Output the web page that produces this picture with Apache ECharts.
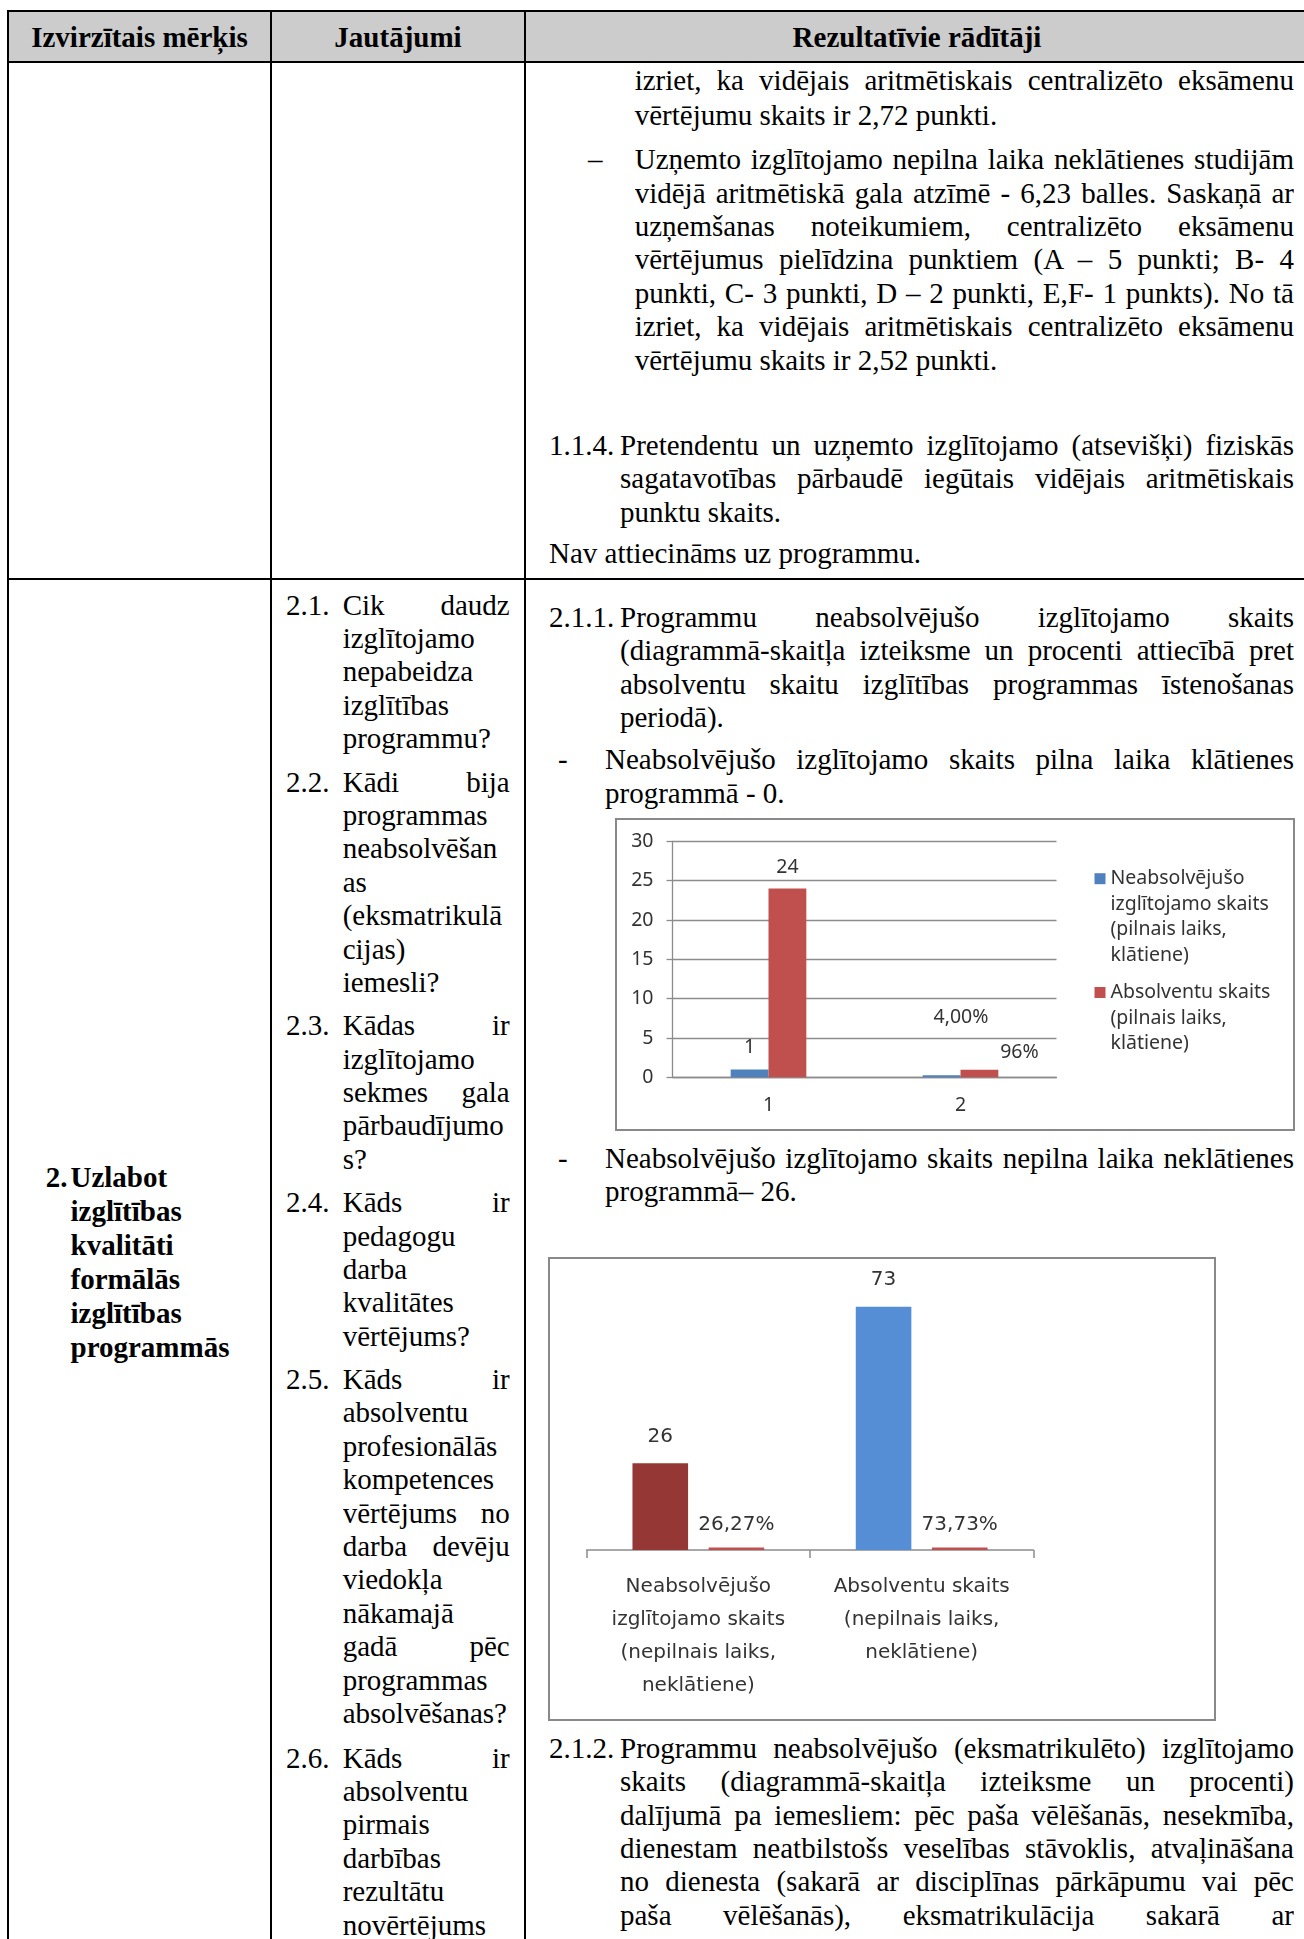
<!DOCTYPE html>
<html><head><meta charset="utf-8">
<script src="https://cdn.jsdelivr.net/npm/echarts@6/dist/echarts.min.js"></script>
<style>
html,body{margin:0;padding:0;background:#fff;}
#page{position:relative;width:1304px;height:1939px;overflow:hidden;background:#fff;}
.ln{position:absolute;margin-top:2.5px;font-family:'Liberation Serif','Times New Roman',serif;font-size:29px;line-height:33.4px;height:33.4px;white-space:nowrap;color:#000;}
.j{text-align:justify;text-align-last:justify;white-space:normal;overflow:hidden;}
.b{font-weight:bold;}
.c{text-align:center;}
.hl,.vl{position:absolute;background:#000;}
.box{position:absolute;box-sizing:border-box;border:2px solid #898989;background:#fff;}
</style></head>
<body>
<div id="page">
<div style="position:absolute;left:8px;top:11px;width:1300px;height:51px;background:#cccccc"></div>
<div class="hl" style="left:7px;top:10px;width:1297px;height:2px"></div>
<div class="hl" style="left:7px;top:61px;width:1297px;height:2px"></div>
<div class="hl" style="left:7px;top:578px;width:1297px;height:2px"></div>
<div class="vl" style="left:7px;top:10px;width:2px;height:1929px"></div>
<div class="vl" style="left:270px;top:10px;width:2px;height:1929px"></div>
<div class="vl" style="left:524px;top:10px;width:2px;height:1929px"></div>

<div class="ln b c" style="left:9px;top:18px;width:261px">Izvirzītais mērķis</div>
<div class="ln b c" style="left:272px;top:18px;width:252px">Jautājumi</div>
<div class="ln b c" style="left:526px;top:18px;width:782px">Rezultatīvie rādītāji</div>

<!-- row 1, column 3 -->
<div class="ln j" style="left:634.7px;top:61.4px;width:659.3px">izriet, ka vidējais aritmētiskais centralizēto eksāmenu</div>
<div class="ln" style="left:634.7px;top:96px">vērtējumu skaits ir 2,72 punkti.</div>
<div class="ln" style="left:588px;top:140.6px">–</div>
<div class="ln j" style="left:634.7px;top:140.6px;width:659.3px">Uzņemto izglītojamo nepilna laika neklātienes studijām</div>
<div class="ln j" style="left:634.7px;top:174px;width:659.3px">vidējā aritmētiskā gala atzīmē - 6,23 balles. Saskaņā ar</div>
<div class="ln j" style="left:634.7px;top:207.4px;width:659.3px">uzņemšanas noteikumiem, centralizēto eksāmenu</div>
<div class="ln j" style="left:634.7px;top:240.8px;width:659.3px">vērtējumus pielīdzina punktiem (A – 5 punkti; B- 4</div>
<div class="ln j" style="left:634.7px;top:274.2px;width:659.3px">punkti, C- 3 punkti, D – 2 punkti, E,F- 1 punkts). No tā</div>
<div class="ln j" style="left:634.7px;top:307.6px;width:659.3px">izriet, ka vidējais aritmētiskais centralizēto eksāmenu</div>
<div class="ln" style="left:634.7px;top:341.5px">vērtējumu skaits ir 2,52 punkti.</div>
<div class="ln" style="left:549px;top:426.4px">1.1.4.</div>
<div class="ln j" style="left:620px;top:426.4px;width:674px">Pretendentu un uzņemto izglītojamo (atsevišķi) fiziskās</div>
<div class="ln j" style="left:620px;top:459.8px;width:674px">sagatavotības pārbaudē iegūtais vidējais aritmētiskais</div>
<div class="ln" style="left:620px;top:493.2px">punktu skaits.</div>
<div class="ln" style="left:549px;top:534px">Nav attiecināms uz programmu.</div>

<!-- row 2, column 1 -->
<div class="ln b" style="left:45.8px;top:1158.8px">2.</div>
<div class="ln b" style="left:70.5px;top:1158.8px">Uzlabot</div>
<div class="ln b" style="left:70.5px;top:1192.7px">izglītības</div>
<div class="ln b" style="left:70.5px;top:1226.6px">kvalitāti</div>
<div class="ln b" style="left:70.5px;top:1260.5px">formālās</div>
<div class="ln b" style="left:70.5px;top:1294.4px">izglītības</div>
<div class="ln b" style="left:70.5px;top:1328.3px">programmās</div>

<!-- row 2, column 2 -->
<div class="ln" style="left:286px;top:586px">2.1.</div>
<div class="ln j" style="left:342.7px;top:586px;width:167px">Cik daudz</div>
<div class="ln" style="left:342.7px;top:619.4px">izglītojamo</div>
<div class="ln" style="left:342.7px;top:652.8px">nepabeidza</div>
<div class="ln" style="left:342.7px;top:686.2px">izglītības</div>
<div class="ln" style="left:342.7px;top:719.6px">programmu?</div>
<div class="ln" style="left:286px;top:763px">2.2.</div>
<div class="ln j" style="left:342.7px;top:763px;width:167px">Kādi bija</div>
<div class="ln" style="left:342.7px;top:796.4px">programmas</div>
<div class="ln" style="left:342.7px;top:829.8px">neabsolvēšan</div>
<div class="ln" style="left:342.7px;top:863.2px">as</div>
<div class="ln" style="left:342.7px;top:896.6px">(eksmatrikulā</div>
<div class="ln" style="left:342.7px;top:930px">cijas)</div>
<div class="ln" style="left:342.7px;top:963.4px">iemesli?</div>
<div class="ln" style="left:286px;top:1006.6px">2.3.</div>
<div class="ln j" style="left:342.7px;top:1006.6px;width:167px">Kādas ir</div>
<div class="ln" style="left:342.7px;top:1040px">izglītojamo</div>
<div class="ln j" style="left:342.7px;top:1073.4px;width:167px">sekmes gala</div>
<div class="ln" style="left:342.7px;top:1106.8px">pārbaudījumo</div>
<div class="ln" style="left:342.7px;top:1140.2px">s?</div>
<div class="ln" style="left:286px;top:1183.6px">2.4.</div>
<div class="ln j" style="left:342.7px;top:1183.6px;width:167px">Kāds ir</div>
<div class="ln" style="left:342.7px;top:1217px">pedagogu</div>
<div class="ln" style="left:342.7px;top:1250.4px">darba</div>
<div class="ln" style="left:342.7px;top:1283.8px">kvalitātes</div>
<div class="ln" style="left:342.7px;top:1317.2px">vērtējums?</div>
<div class="ln" style="left:286px;top:1360.5px">2.5.</div>
<div class="ln j" style="left:342.7px;top:1360.5px;width:167px">Kāds ir</div>
<div class="ln" style="left:342.7px;top:1393.9px">absolventu</div>
<div class="ln" style="left:342.7px;top:1427.3px">profesionālās</div>
<div class="ln" style="left:342.7px;top:1460.7px">kompetences</div>
<div class="ln j" style="left:342.7px;top:1494.1px;width:167px">vērtējums no</div>
<div class="ln j" style="left:342.7px;top:1527.5px;width:167px">darba devēju</div>
<div class="ln" style="left:342.7px;top:1560.9px">viedokļa</div>
<div class="ln" style="left:342.7px;top:1594.3px">nākamajā</div>
<div class="ln j" style="left:342.7px;top:1627.7px;width:167px">gadā pēc</div>
<div class="ln" style="left:342.7px;top:1661.1px">programmas</div>
<div class="ln" style="left:342.7px;top:1694.5px">absolvēšanas?</div>
<div class="ln" style="left:286px;top:1739px">2.6.</div>
<div class="ln j" style="left:342.7px;top:1739px;width:167px">Kāds ir</div>
<div class="ln" style="left:342.7px;top:1772.4px">absolventu</div>
<div class="ln" style="left:342.7px;top:1805.8px">pirmais</div>
<div class="ln" style="left:342.7px;top:1839.2px">darbības</div>
<div class="ln" style="left:342.7px;top:1872.6px">rezultātu</div>
<div class="ln" style="left:342.7px;top:1906px">novērtējums</div>

<!-- row 2, column 3 -->
<div class="ln" style="left:549px;top:598.4px">2.1.1.</div>
<div class="ln j" style="left:620px;top:598.4px;width:674px">Programmu neabsolvējušo izglītojamo skaits</div>
<div class="ln j" style="left:620px;top:631.8px;width:674px">(diagrammā-skaitļa izteiksme un procenti attiecībā pret</div>
<div class="ln j" style="left:620px;top:665.2px;width:674px">absolventu skaitu izglītības programmas īstenošanas</div>
<div class="ln" style="left:620px;top:698.6px">periodā).</div>
<div class="ln" style="left:558px;top:740.6px">-</div>
<div class="ln j" style="left:605px;top:740.6px;width:689px">Neabsolvējušo izglītojamo skaits pilna laika klātienes</div>
<div class="ln" style="left:605px;top:774px">programmā - 0.</div>
<div class="ln" style="left:558px;top:1139px">-</div>
<div class="ln j" style="left:605px;top:1139px;width:689px">Neabsolvējušo izglītojamo skaits nepilna laika neklātienes</div>
<div class="ln" style="left:605px;top:1172.4px">programmā– 26.</div>
<div class="ln" style="left:549px;top:1729px">2.1.2.</div>
<div class="ln j" style="left:620px;top:1729px;width:674px">Programmu neabsolvējušo (eksmatrikulēto) izglītojamo</div>
<div class="ln j" style="left:620px;top:1762.5px;width:674px">skaits (diagrammā-skaitļa izteiksme un procenti)</div>
<div class="ln j" style="left:620px;top:1796px;width:674px">dalījumā pa iemesliem: pēc paša vēlēšanās, nesekmība,</div>
<div class="ln j" style="left:620px;top:1829.4px;width:674px">dienestam neatbilstošs veselības stāvoklis, atvaļināšana</div>
<div class="ln j" style="left:620px;top:1862.8px;width:674px">no dienesta (sakarā ar disciplīnas pārkāpumu vai pēc</div>
<div class="ln j" style="left:620px;top:1896.2px;width:674px">paša vēlēšanās), eksmatrikulācija sakarā ar</div>

<div id="chart1" class="box" style="left:615px;top:818px;width:680px;height:313px"></div>
<div id="chart2" class="box" style="left:548px;top:1257px;width:668px;height:464px"></div>
</div>

<script>
// ---- chart 1 data (pilnais laiks, klātiene) ----
const chart1Categories = ['1', '2'];
const chart1SeriesNames = [
  'Neabsolvējušo\nizglītojamo skaits\n(pilnais laiks,\nklātiene)',
  'Absolventu skaits\n(pilnais laiks,\nklātiene)'
];
const chart1Neabsolvejusi = [1, 0.04];
const chart1Absolventi = [24, 0.96];
const chart1NeabsLabels = ['1', '4,00%'];
const chart1AbsLabels = ['24', '96%'];
const chart1YMin = 0, chart1YMax = 30, chart1YStep = 5;

// ---- chart 2 data (nepilnais laiks, neklātiene) ----
const chart2Categories = [
  'Neabsolvējušo\nizglītojamo skaits\n(nepilnais laiks,\nneklātiene)',
  'Absolventu skaits\n(nepilnais laiks,\nneklātiene)'
];
const chart2Counts = [26, 73];
const chart2Percents = [0.2627, 0.7373];
const chart2PercentLabels = ['26,27%', '73,73%'];
const chart2YMax = 80;

const SANS = 'Noto Sans';
const TXT = '#333333';
const GRID = '#8c8c8c';

const c1 = echarts.init(document.getElementById('chart1'), null, {renderer: 'canvas'});
const lh1 = 25.5;
function legendFor(idx, top) {
  const n = chart1SeriesNames[idx].split('\n').length;
  // leading empty lines keep the icon level with the first text line
  return {
    show: true, orient: 'vertical', left: 477.5, top: top, padding: 0,
    itemWidth: 11, itemHeight: 11, icon: 'rect', selectedMode: false,
    data: [{name: chart1SeriesNames[idx]}],
    formatter: name => '\n'.repeat(n - 1) + name,
    textStyle: {fontFamily: SANS, fontSize: 19.5, lineHeight: lh1, color: TXT}
  };
}
c1.setOption({
  animation: false,
  grid: {left: 55.5, right: 236.5, top: 21.4, bottom: 51.7, containLabel: false, outerBoundsMode: 'none'},
  legend: [
    legendFor(0, 58.7 - 3.5 * lh1),
    legendFor(1, 172.5 - 2.5 * lh1)
  ],
  xAxis: {
    type: 'category', data: chart1Categories,
    axisLine: {show: true, lineStyle: {color: GRID, width: 1.3}},
    axisTick: {show: false},
    axisLabel: {interval: 0, margin: 18, fontFamily: SANS, fontSize: 19.5, color: TXT}
  },
  yAxis: {
    type: 'value', min: chart1YMin, max: chart1YMax, interval: chart1YStep,
    axisLine: {show: true, lineStyle: {color: GRID, width: 1.3}},
    axisTick: {show: true, length: 6, lineStyle: {color: GRID, width: 1.3}},
    splitLine: {show: true, lineStyle: {color: GRID, width: 1.3}},
    axisLabel: {margin: 19, fontFamily: SANS, fontSize: 19.5, color: TXT}
  },
  series: [
    {
      name: chart1SeriesNames[0], type: 'bar', barGap: '0%', barCategoryGap: '60.6%', barMinHeight: 2,
      itemStyle: {color: '#4f81bd'},
      data: chart1Neabsolvejusi.map((v, i) => i === 1 ? {value: v, label: {offset: [19.4, -36]}} : v),
      label: {show: true, position: 'top', distance: 11.5, fontFamily: SANS, fontSize: 19.5, color: TXT,
        formatter: p => chart1NeabsLabels[p.dataIndex]}
    },
    {
      name: chart1SeriesNames[1], type: 'bar', barGap: '0%', barCategoryGap: '60.6%',
      itemStyle: {color: '#c0504d'},
      data: chart1Absolventi.map((v, i) => i === 1 ? {value: v, label: {offset: [40, 4.5]}} : v),
      label: {show: true, position: 'top', distance: 11.5, fontFamily: SANS, fontSize: 19.5, color: TXT,
        formatter: p => chart1AbsLabels[p.dataIndex]}
    }
  ]
});

const c2 = echarts.init(document.getElementById('chart2'), null, {renderer: 'canvas'});
const FONT2 = 'DejaVu Sans';
c2.setOption({
  animation: false,
  grid: {left: 36.7, right: 180.7, top: 24.4, bottom: 169, containLabel: false, outerBoundsMode: 'none'},
  xAxis: {
    type: 'category', data: chart2Categories,
    axisLine: {show: true, lineStyle: {color: GRID, width: 1.5}},
    axisTick: {show: true, length: 8, alignWithLabel: false, lineStyle: {color: GRID, width: 1.5}},
    axisLabel: {interval: 0, margin: 20, fontFamily: FONT2, fontSize: 20, lineHeight: 33, color: TXT}
  },
  yAxis: {type: 'value', min: 0, max: chart2YMax, show: false},
  series: [
    {
      type: 'bar', barGap: '37%', barCategoryGap: '41%',
      data: chart2Counts.map((v, i) => ({value: v, itemStyle: {color: ['#953735', '#558ed5'][i]}})),
      label: {show: true, position: 'top', distance: 16.5, fontFamily: FONT2, fontSize: 20, color: TXT}
    },
    {
      type: 'bar', barGap: '37%', barCategoryGap: '41%', barMinHeight: 2.5,
      itemStyle: {color: '#c0504d'},
      data: chart2Percents,
      label: {show: true, position: 'top', distance: 13, fontFamily: FONT2, fontSize: 20, color: TXT,
        formatter: p => chart2PercentLabels[p.dataIndex]}
    }
  ]
});
</script>
</body></html>
